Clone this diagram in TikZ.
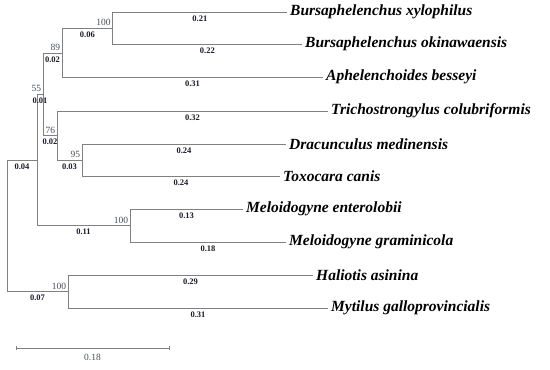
\documentclass[tikz,border=0pt]{standalone}
\usepackage{fontspec}
\setmainfont{Liberation Serif}
\usetikzlibrary{positioning}

\definecolor{branchgray}{RGB}{128,128,128}
\definecolor{bootgray}{RGB}{70,78,90}
\definecolor{lenink}{RGB}{25,25,40}

\begin{document}
\begin{tikzpicture}[
  x=1bp, y=-1bp,
  branch/.style={draw=branchgray, line width=1bp},
  taxon/.style={anchor=west, inner sep=3bp,
    font=\fontsize{15.5bp}{17bp}\selectfont\bfseries\itshape},
  len/.style={pos=0.75, below, inner sep=3bp, text=lenink,
    font=\fontsize{8.5bp}{9bp}\selectfont\bfseries},
  boot/.style={pos=1, above left, inner sep=1.5bp, text=bootgray,
    font=\fontsize{9.5bp}{10bp}\selectfont}
]
  \useasboundingbox (0,0) rectangle (550,369);

  % internal nodes
  \coordinate (root) at (7,226);
  \coordinate (nA) at (37,160);
  \coordinate (n55) at (43,94);
  \coordinate (n89) at (62,53);
  \coordinate (nBur) at (112.7,28);
  \coordinate (n76) at (57,135.5);
  \coordinate (n95) at (82,160);
  \coordinate (nMel) at (130,225.5);
  \coordinate (nMol) at (68,291.5);

  % taxa
  \node[taxon] (bx)  at (287,12)  {Bursaphelenchus xylophilus};
  \node[taxon] (bo)  at (302,44)  {Bursaphelenchus okinawaensis};
  \node[taxon] (ab)  at (323,77)  {Aphelenchoides besseyi};
  \node[taxon] (tc)  at (328,111) {Trichostrongylus colubriformis};
  \node[taxon] (dm)  at (286,144) {Dracunculus medinensis};
  \node[taxon] (tox) at (280,176) {Toxocara canis};
  \node[taxon] (me)  at (243,209) {Meloidogyne enterolobii};
  \node[taxon] (mg)  at (286,242) {Meloidogyne graminicola};
  \node[taxon] (ha)  at (313,275) {Haliotis asinina};
  \node[taxon] (mgp) at (328,308) {Mytilus galloprovincialis};

  % branches
  \draw[branch] (root) |- node[len] {0.04} (nA);
  \draw[branch] (root) |- node[len] {0.07} node[boot] {100} (nMol);
  \draw[branch] (nA) |- node[len] {0.01} node[boot] {55} (n55);
  \draw[branch] (nA) |- node[len] {0.11} node[boot] {100} (nMel);
  \draw[branch] (n55) |- node[len] {0.02} node[boot] {89} (n89);
  \draw[branch] (n55) |- node[len] {0.02} node[boot] {76} (n76);
  \draw[branch] (n89) |- node[len] {0.06} node[boot] {100} (nBur);
  \draw[branch] (n89) |- node[len] {0.31} (ab.west);
  \draw[branch] (nBur) |- node[len] {0.21} (bx.west);
  \draw[branch] (nBur) |- node[len] {0.22} (bo.west);
  \draw[branch] (n76) |- node[len] {0.32} (tc.west);
  \draw[branch] (n76) |- node[len] {0.03} node[boot] {95} (n95);
  \draw[branch] (n95) |- node[len] {0.24} (dm.west);
  \draw[branch] (n95) |- node[len] {0.24} (tox.west);
  \draw[branch] (nMel) |- node[len] {0.13} (me.west);
  \draw[branch] (nMel) |- node[len] {0.18} (mg.west);
  \draw[branch] (nMol) |- node[len] {0.29} (ha.west);
  \draw[branch] (nMol) |- node[len] {0.31} (mgp.west);

  % scale bar
  \coordinate (sbl) at (16,348);
  \coordinate (sbr) at (169,348);
  \draw[branch] (sbl) -- node[below=6bp, inner sep=0pt, text=bootgray,
    font=\fontsize{9.5bp}{10bp}\selectfont] {0.18} (sbr);
  \draw[branch] ([yshift=-2bp]sbl) -- ([yshift=2bp]sbl);
  \draw[branch] ([yshift=-2bp]sbr) -- ([yshift=2bp]sbr);
\end{tikzpicture}
\end{document}
